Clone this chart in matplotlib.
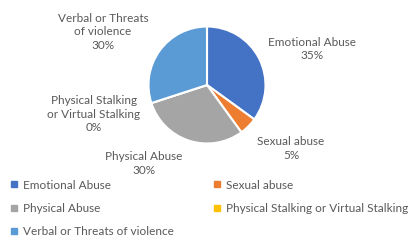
import matplotlib
matplotlib.use('Agg')
import matplotlib.pyplot as plt
from matplotlib.lines import Line2D

categories = ['Emotional Abuse', 'Sexual abuse', 'Physical Abuse',
              'Physical Stalking or Virtual Stalking', 'Verbal or Threats of violence']
values = [35, 5, 30, 0, 30]
colors = ['#4472C4', '#ED7D31', '#A5A5A5', '#FFC000', '#5B9BD5']
pie_labels = ['Emotional Abuse\n35%', 'Sexual abuse\n5%', 'Physical Abuse\n30%',
              'Physical Stalking\nor Virtual Stalking\n0%', 'Verbal or Threats\nof violence\n30%']

plt.rcParams['font.family'] = ['Lato', 'DejaVu Sans']
txt = '#595959'

fig = plt.figure(figsize=(4.08, 2.43), dpi=100)
ax = fig.add_axes([0, 0, 1, 1])

ax.pie(values, colors=colors, startangle=90, counterclock=False,
       center=(207, 158), radius=58.5, frame=True,
       wedgeprops=dict(edgecolor='white', linewidth=1.5))
ax.set_xlim(0, 408)
ax.set_ylim(0, 243)
ax.set_aspect('auto')
ax.axis('off')

# label positions (pixel coords, y up)
label_pos = [(312, 194), (291, 94.5), (144, 79.5), (94, 129), (103, 211)]
for (x, y), lab in zip(label_pos, pie_labels):
    ax.text(x, y, lab, ha='center', va='center', fontsize=8.5, color=txt,
            linespacing=1.3)

# legend filled row by row
order = [0, 2, 4, 1, 3]
handles = [Line2D([], [], marker='s', linestyle='', markersize=3.8,
                  markerfacecolor=colors[i], markeredgecolor=colors[i]) for i in order]
fig.legend(handles, [categories[i] for i in order], loc='upper left',
           bbox_to_anchor=(0.0, 0.305), ncol=2, frameon=False, fontsize=8.5,
           labelcolor=txt, handlelength=0.6, handletextpad=0.45,
           columnspacing=3.35, labelspacing=1.05)

fig.savefig('out.png', dpi=100)
